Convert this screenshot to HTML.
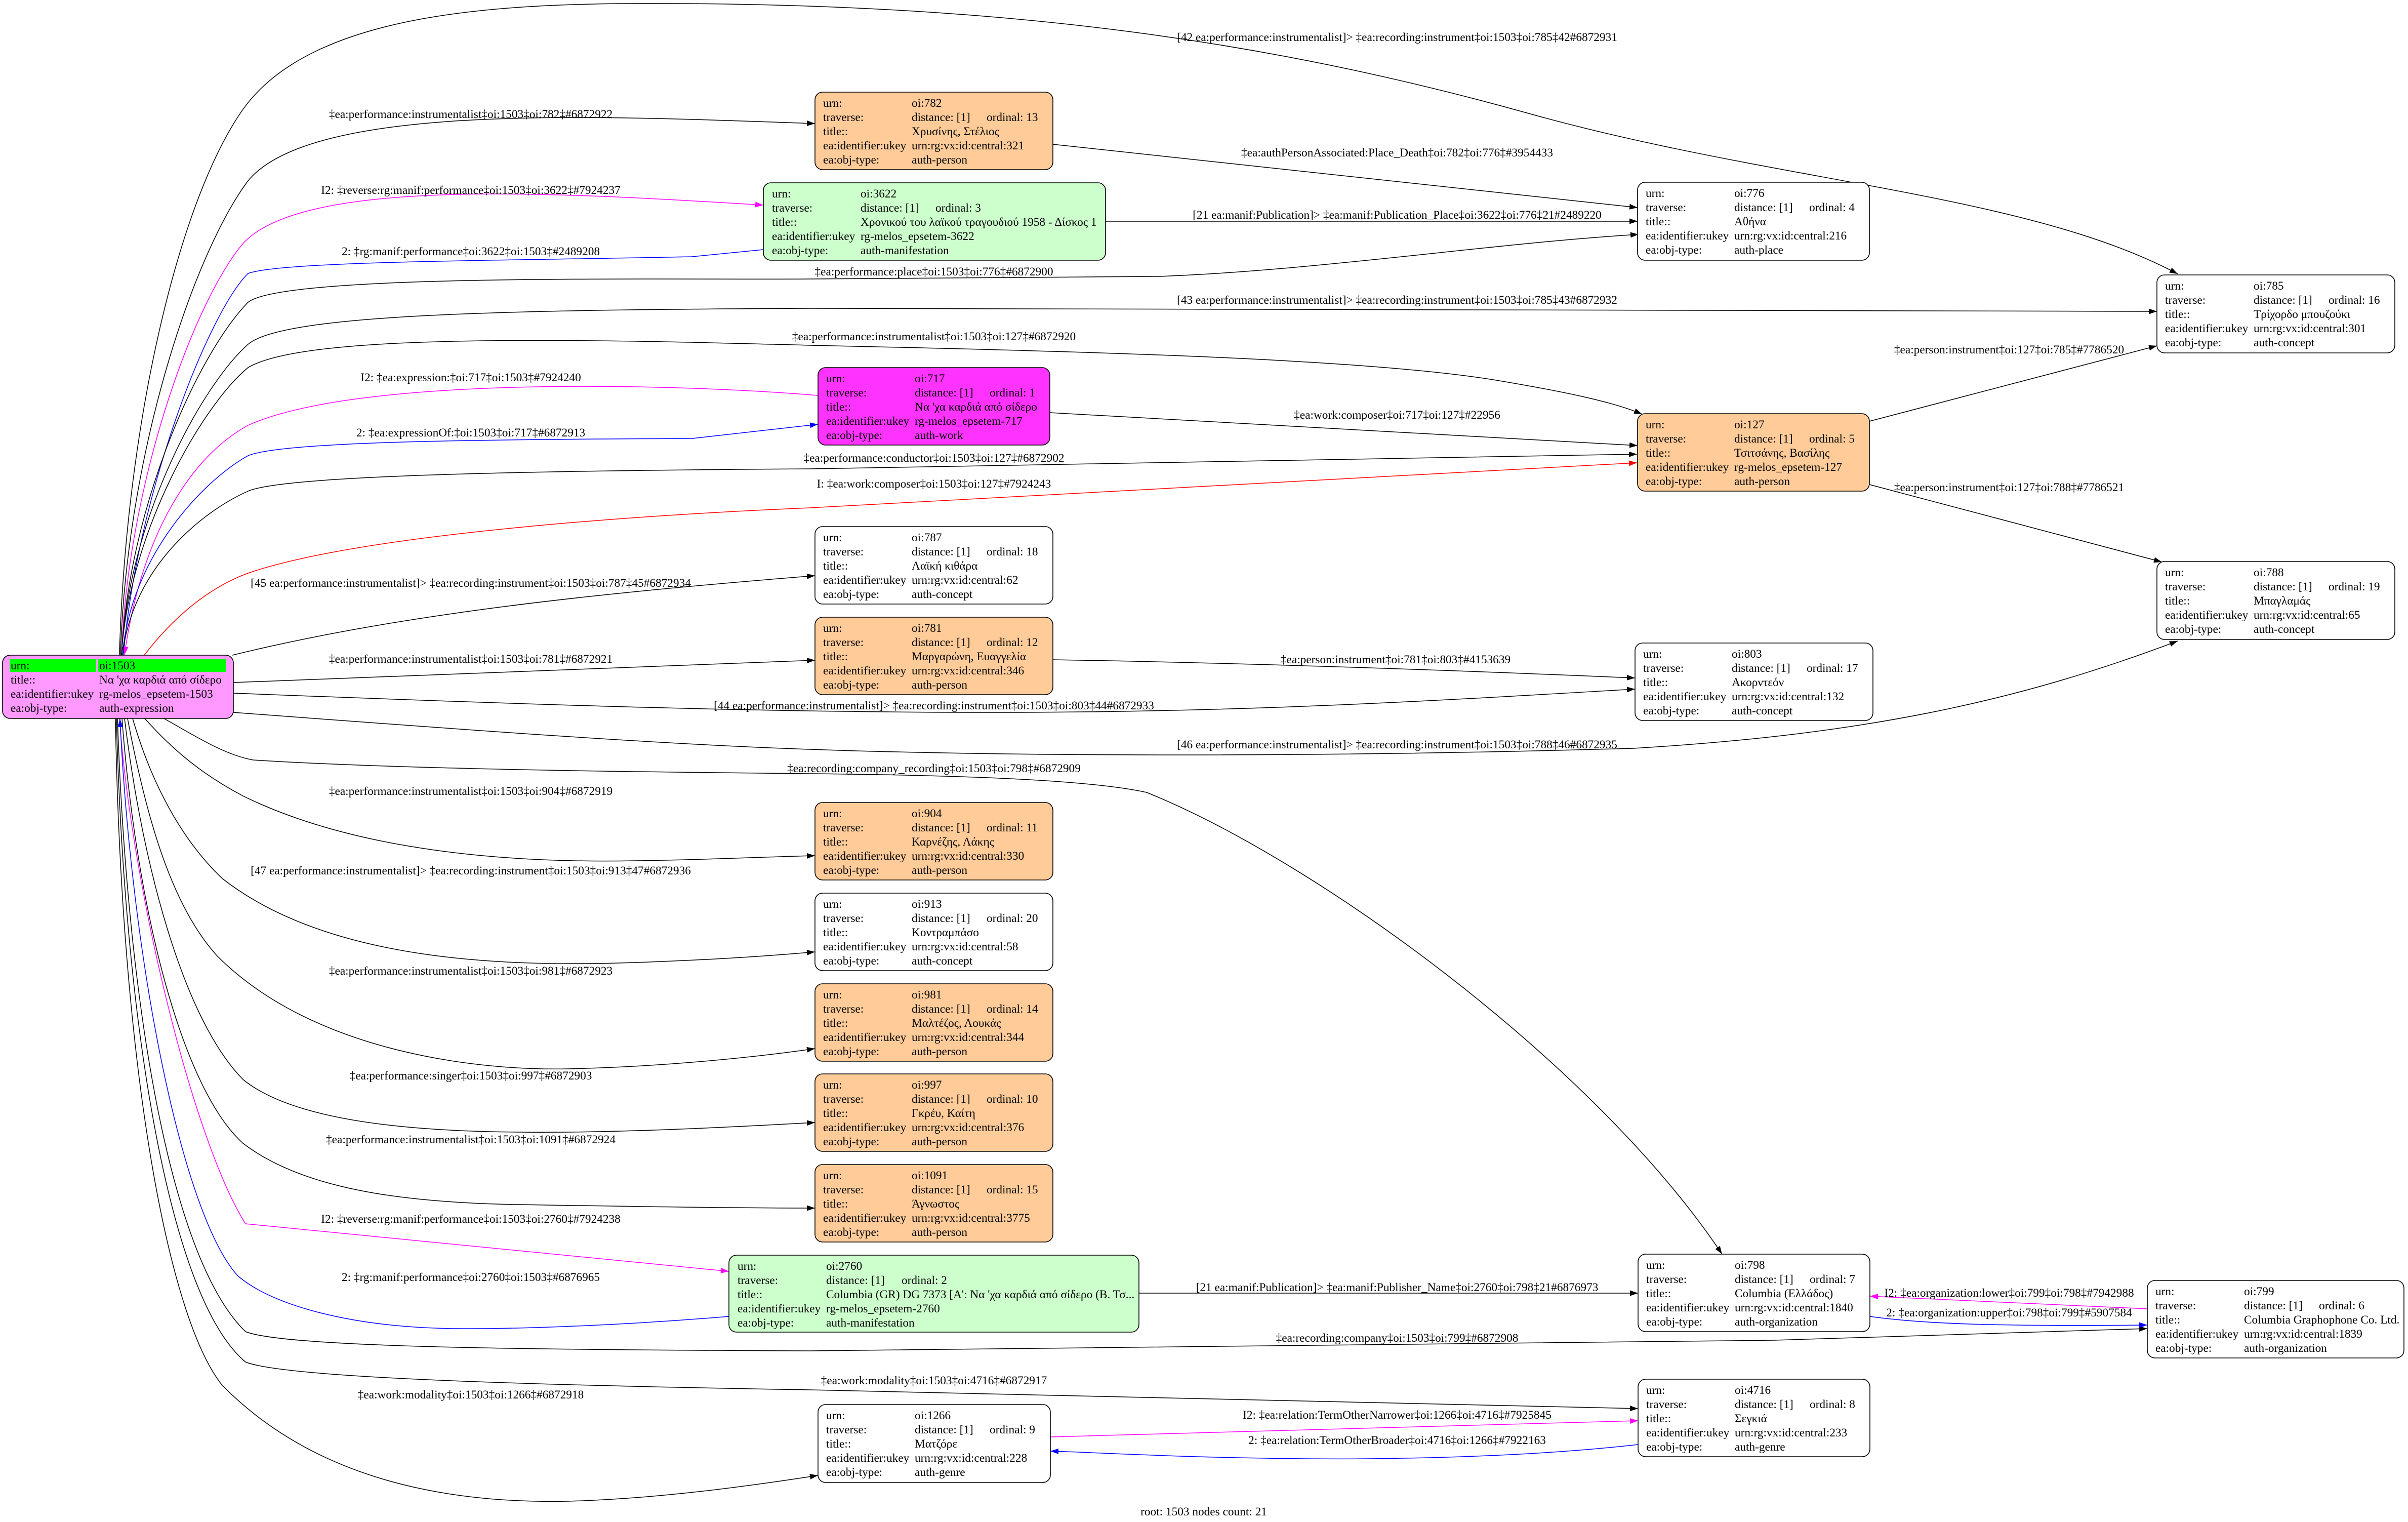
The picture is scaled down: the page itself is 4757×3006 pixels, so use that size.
<!DOCTYPE html>
<html>
<head>
<meta charset="utf-8">
<style>
html,body{margin:0;padding:0;background:#fff;}
svg{display:block;}
text{font-family:"Liberation Serif","DejaVu Serif",serif;font-size:23.3px;fill:#000;}
.lb{text-anchor:middle;}
.e{fill:none;stroke:#000;stroke-width:1.5;}
.eb{fill:none;stroke:#0000ff;stroke-width:1.5;}
.em{fill:none;stroke:#ff00ff;stroke-width:1.5;}
.er{fill:none;stroke:#ff0000;stroke-width:1.5;}
.n{stroke:#000;stroke-width:1.6;}
</style>
</head>
<body>
<svg width="4757" height="3006" viewBox="0 0 4757 3006" xmlns="http://www.w3.org/2000/svg">
<defs>
<marker id="mk" viewBox="0 0 16 11" refX="16" refY="5.5" markerWidth="16" markerHeight="11" markerUnits="userSpaceOnUse" orient="auto"><path d="M0,0 L16,5.5 L0,11 z" fill="#000"/></marker>
<marker id="mb" viewBox="0 0 16 11" refX="16" refY="5.5" markerWidth="16" markerHeight="11" markerUnits="userSpaceOnUse" orient="auto"><path d="M0,0 L16,5.5 L0,11 z" fill="#0000ff"/></marker>
<marker id="mm" viewBox="0 0 16 11" refX="16" refY="5.5" markerWidth="16" markerHeight="11" markerUnits="userSpaceOnUse" orient="auto"><path d="M0,0 L16,5.5 L0,11 z" fill="#ff00ff"/></marker>
<marker id="mr" viewBox="0 0 16 11" refX="16" refY="5.5" markerWidth="16" markerHeight="11" markerUnits="userSpaceOnUse" orient="auto"><path d="M0,0 L16,5.5 L0,11 z" fill="#ff0000"/></marker>
</defs>
<rect x="0" y="0" width="4757" height="3006" fill="#fff"/>

<!-- ============ EDGES ============ -->
<path class="e" marker-end="url(#mk)" d="M 236 1293 C 248 850, 350 400, 480 216 C 620 20, 1000 5, 1330 7 C 2000 10, 2500 80, 3009 221 C 3500 360, 4000 380, 4302 541"/>
<path class="e" marker-end="url(#mk)" d="M 238 1293 C 250 900, 380 505, 490 357 C 620 200, 1200 230, 1610 244"/>
<path class="em" marker-end="url(#mm)" d="M 240 1293 C 252 960, 380 600, 480 481 C 600 350, 1100 380, 1508 405"/>
<path class="eb" marker-end="url(#mb)" d="M 1508 493 L 1367 507 C 1000 515, 560 515, 490 540 C 410 620, 270 980, 244 1293"/>
<path class="e" marker-end="url(#mk)" d="M 240 1293 C 255 1000, 390 700, 490 597 C 560 540, 1300 553, 1600 551 L 2285 546 C 2600 535, 2950 480, 3237 463"/>
<path class="e" marker-end="url(#mk)" d="M 240 1293 C 255 1020, 400 760, 490 680 C 560 620, 1000 612, 1600 609 L 4261 615"/>
<path class="e" marker-end="url(#mk)" d="M 240 1293 C 255 1050, 400 800, 490 726 C 600 660, 1100 668, 1600 682 C 2200 695, 2700 710, 2950 750 C 3100 775, 3190 795, 3244 818"/>
<path class="em" marker-end="url(#mm)" d="M 1616 781 C 1300 755, 700 745, 490 840 C 380 900, 280 1050, 246 1293"/>
<path class="eb" marker-end="url(#mb)" d="M 242 1293 C 258 1100, 400 950, 490 900 C 560 870, 1000 868, 1367 866 L 1616 838"/>
<path class="e" marker-end="url(#mk)" d="M 242 1293 C 262 1120, 400 1010, 490 970 C 560 940, 1000 930, 1600 926 L 3234 897"/>
<path class="er" marker-end="url(#mr)" d="M 285 1294 C 330 1235, 400 1165, 490 1132 C 700 1060, 1200 1020, 1600 1003 L 3234 914"/>
<path class="e" marker-end="url(#mk)" d="M 459 1294 C 800 1210, 1200 1170, 1610 1137"/>

<path class="e" marker-end="url(#mk)" d="M 461 1348 L 1610 1304"/>
<path class="e" marker-end="url(#mk)" d="M 461 1369 C 1000 1390, 1500 1408, 2000 1407 C 2500 1406, 2900 1380, 3230 1361"/>
<path class="e" marker-end="url(#mk)" d="M 461 1407 C 900 1440, 1300 1470, 1600 1480 C 2000 1494, 2600 1496, 3227 1478 C 3700 1450, 4000 1380, 4302 1266"/>
<path class="e" marker-end="url(#mk)" d="M 322 1418 C 380 1450, 440 1490, 500 1501 C 800 1520, 1300 1525, 1600 1528 C 1900 1531, 2150 1540, 2265 1565 C 2600 1700, 3150 2100, 3402 2477"/>

<path class="e" marker-end="url(#mk)" d="M 286 1419 C 340 1480, 400 1530, 480 1572 C 700 1680, 1000 1705, 1255 1700 C 1400 1698, 1520 1692, 1610 1690"/>
<path class="e" marker-end="url(#mk)" d="M 262 1419 C 300 1550, 360 1660, 439 1735 C 650 1900, 1000 1910, 1255 1901 C 1400 1896, 1520 1888, 1610 1880"/>
<path class="e" marker-end="url(#mk)" d="M 252 1419 C 290 1620, 340 1790, 429 1888 C 620 2080, 950 2115, 1122 2111 C 1300 2107, 1480 2090, 1610 2071"/>
<path class="e" marker-end="url(#mk)" d="M 246 1419 C 280 1700, 360 2010, 480 2132 C 600 2230, 900 2238, 1122 2236 C 1300 2234, 1480 2224, 1610 2217"/>
<path class="e" marker-end="url(#mk)" d="M 241 1419 C 270 1800, 360 2150, 480 2258 C 600 2350, 800 2375, 1020 2379 C 1250 2383, 1450 2386, 1610 2386"/>
<path class="em" marker-end="url(#mm)" d="M 236 1419 C 260 1750, 380 2250, 485 2417 L 1440 2511"/>
<path class="eb" marker-end="url(#mb)" d="M 1440 2600 C 1200 2620, 1000 2625, 900 2624 C 700 2622, 540 2580, 470 2520 C 360 2400, 260 1900, 237 1420"/>
<path class="e" marker-end="url(#mk)" d="M 232 1419 C 250 1950, 330 2480, 485 2630 C 560 2660, 1000 2666, 1600 2668 L 3505 2647 L 4242 2624"/>
<path class="e" marker-end="url(#mk)" d="M 230 1419 C 245 2000, 330 2560, 485 2690 C 560 2720, 1000 2735, 1600 2745 L 3236 2782"/>
<path class="e" marker-end="url(#mk)" d="M 228 1419 C 240 2100, 330 2600, 439 2736 C 650 2950, 950 2968, 1122 2965 C 1300 2960, 1480 2935, 1616 2914"/>

<path class="e" marker-end="url(#mk)" d="M 2080 285 L 3235 410"/>
<path class="e" marker-end="url(#mk)" d="M 2184 437 L 3235 437"/>
<path class="e" marker-end="url(#mk)" d="M 2074 815 L 3235 880"/>
<path class="e" marker-end="url(#mk)" d="M 3693 832 L 4261 683"/>
<path class="e" marker-end="url(#mk)" d="M 3693 957 L 4271 1110"/>
<path class="e" marker-end="url(#mk)" d="M 2080 1303 C 2500 1310, 2900 1325, 3230 1339"/>
<path class="e" marker-end="url(#mk)" d="M 2250 2554 L 3236 2554"/>
<path class="em" marker-end="url(#mm)" d="M 4242 2585 L 3694 2560"/>
<path class="eb" marker-end="url(#mb)" d="M 3694 2600 C 3800 2615, 3950 2620, 4242 2617"/>
<path class="em" marker-end="url(#mm)" d="M 2075 2838 L 3236 2806"/>
<path class="eb" marker-end="url(#mb)" d="M 3236 2853 C 3000 2880, 2700 2884, 2500 2880 C 2300 2877, 2150 2868, 2075 2866"/>

<!-- ============ EDGE LABELS ============ -->
<text class="lb" x="2760" y="81">[42 ea:performance:instrumentalist]&gt; ‡ea:recording:instrument‡oi:1503‡oi:785‡42#6872931</text>
<text class="lb" x="930" y="233">‡ea:performance:instrumentalist‡oi:1503‡oi:782‡#6872922</text>
<text class="lb" x="2760" y="309">‡ea:authPersonAssociated:Place_Death‡oi:782‡oi:776‡#3954433</text>
<text class="lb" x="930" y="383">I2: ‡reverse:rg:manif:performance‡oi:1503‡oi:3622‡#7924237</text>
<text class="lb" x="2760" y="432">[21 ea:manif:Publication]&gt; ‡ea:manif:Publication_Place‡oi:3622‡oi:776‡21#2489220</text>
<text class="lb" x="930" y="504">2: ‡rg:manif:performance‡oi:3622‡oi:1503‡#2489208</text>
<text class="lb" x="1845" y="544">‡ea:performance:place‡oi:1503‡oi:776‡#6872900</text>
<text class="lb" x="2760" y="600">[43 ea:performance:instrumentalist]&gt; ‡ea:recording:instrument‡oi:1503‡oi:785‡43#6872932</text>
<text class="lb" x="1845" y="672">‡ea:performance:instrumentalist‡oi:1503‡oi:127‡#6872920</text>
<text class="lb" x="3969" y="698">‡ea:person:instrument‡oi:127‡oi:785‡#7786520</text>
<text class="lb" x="930" y="753">I2: ‡ea:expression:‡oi:717‡oi:1503‡#7924240</text>
<text class="lb" x="2760" y="827">‡ea:work:composer‡oi:717‡oi:127‡#22956</text>
<text class="lb" x="930" y="862">2: ‡ea:expressionOf:‡oi:1503‡oi:717‡#6872913</text>
<text class="lb" x="1845" y="912">‡ea:performance:conductor‡oi:1503‡oi:127‡#6872902</text>
<text class="lb" x="1845" y="963">I: ‡ea:work:composer‡oi:1503‡oi:127‡#7924243</text>
<text class="lb" x="3969" y="970">‡ea:person:instrument‡oi:127‡oi:788‡#7786521</text>
<text class="lb" x="930" y="1159">[45 ea:performance:instrumentalist]&gt; ‡ea:recording:instrument‡oi:1503‡oi:787‡45#6872934</text>
<text class="lb" x="930" y="1309">‡ea:performance:instrumentalist‡oi:1503‡oi:781‡#6872921</text>
<text class="lb" x="2757" y="1310">‡ea:person:instrument‡oi:781‡oi:803‡#4153639</text>
<text class="lb" x="1845" y="1401">[44 ea:performance:instrumentalist]&gt; ‡ea:recording:instrument‡oi:1503‡oi:803‡44#6872933</text>
<text class="lb" x="2760" y="1478">[46 ea:performance:instrumentalist]&gt; ‡ea:recording:instrument‡oi:1503‡oi:788‡46#6872935</text>
<text class="lb" x="1845" y="1525">‡ea:recording:company_recording‡oi:1503‡oi:798‡#6872909</text>
<text class="lb" x="930" y="1570">‡ea:performance:instrumentalist‡oi:1503‡oi:904‡#6872919</text>
<text class="lb" x="930" y="1727">[47 ea:performance:instrumentalist]&gt; ‡ea:recording:instrument‡oi:1503‡oi:913‡47#6872936</text>
<text class="lb" x="930" y="1925">‡ea:performance:instrumentalist‡oi:1503‡oi:981‡#6872923</text>
<text class="lb" x="930" y="2132">‡ea:performance:singer‡oi:1503‡oi:997‡#6872903</text>
<text class="lb" x="930" y="2258">‡ea:performance:instrumentalist‡oi:1503‡oi:1091‡#6872924</text>
<text class="lb" x="930" y="2415">I2: ‡reverse:rg:manif:performance‡oi:1503‡oi:2760‡#7924238</text>
<text class="lb" x="930" y="2530">2: ‡rg:manif:performance‡oi:2760‡oi:1503‡#6876965</text>
<text class="lb" x="2760" y="2550">[21 ea:manif:Publication]&gt; ‡ea:manif:Publisher_Name‡oi:2760‡oi:798‡21#6876973</text>
<text class="lb" x="3969" y="2561">I2: ‡ea:organization:lower‡oi:799‡oi:798‡#7942988</text>
<text class="lb" x="3969" y="2600">2: ‡ea:organization:upper‡oi:798‡oi:799‡#5907584</text>
<text class="lb" x="2760" y="2650">‡ea:recording:company‡oi:1503‡oi:799‡#6872908</text>
<text class="lb" x="1845" y="2734">‡ea:work:modality‡oi:1503‡oi:4716‡#6872917</text>
<text class="lb" x="930" y="2762">‡ea:work:modality‡oi:1503‡oi:1266‡#6872918</text>
<text class="lb" x="2760" y="2802">I2: ‡ea:relation:TermOtherNarrower‡oi:1266‡oi:4716‡#7925845</text>
<text class="lb" x="2760" y="2852">2: ‡ea:relation:TermOtherBroader‡oi:4716‡oi:1266‡#7922163</text>
<text class="lb" x="2378" y="2993">root: 1503 nodes count: 21</text>

<!-- ============ NODES ============ -->
<g transform="translate(5,1294)">
<rect class="n" x="0" y="0" width="456" height="125" rx="15" fill="#ff99ff"/>
<rect x="14" y="8" width="171" height="25" fill="#00ff00"/>
<rect x="188" y="8" width="254" height="25" fill="#00ff00"/>
<text x="16" y="28">urn:</text><text x="191" y="28">oi:1503</text>
<text x="16" y="56">title::</text><text x="191" y="56">Να 'χα καρδιά από σίδερο</text>
<text x="16" y="84">ea:identifier:ukey</text><text x="191" y="84">rg-melos_epsetem-1503</text>
<text x="16" y="112">ea:obj-type:</text><text x="191" y="112">auth-expression</text>
</g>

<g transform="translate(1610,182)">
<rect class="n" x="0" y="0" width="470" height="153" rx="15" fill="#ffcc99"/>
<text x="16" y="29">urn:</text><text x="191" y="29">oi:782</text>
<text x="16" y="57">traverse:</text><text x="191" y="57">distance: [1]</text><text x="339" y="57">ordinal: 13</text>
<text x="16" y="85">title::</text><text x="191" y="85">Χρυσίνης, Στέλιος</text>
<text x="16" y="113">ea:identifier:ukey</text><text x="191" y="113">urn:rg:vx:id:central:321</text>
<text x="16" y="141">ea:obj-type:</text><text x="191" y="141">auth-person</text>
</g>

<g transform="translate(1508,361)">
<rect class="n" x="0" y="0" width="676" height="153" rx="15" fill="#ccffcc"/>
<text x="17" y="29">urn:</text><text x="192" y="29">oi:3622</text>
<text x="17" y="57">traverse:</text><text x="192" y="57">distance: [1]</text><text x="340" y="57">ordinal: 3</text>
<text x="17" y="85">title::</text><text x="192" y="85">Χρονικού του λαϊκού τραγουδιού 1958 - Δίσκος 1</text>
<text x="17" y="113">ea:identifier:ukey</text><text x="192" y="113">rg-melos_epsetem-3622</text>
<text x="17" y="141">ea:obj-type:</text><text x="192" y="141">auth-manifestation</text>
</g>

<g transform="translate(3235,360)">
<rect class="n" x="0" y="0" width="458" height="154" rx="15" fill="#ffffff"/>
<text x="16" y="29">urn:</text><text x="191" y="29">oi:776</text>
<text x="16" y="57">traverse:</text><text x="191" y="57">distance: [1]</text><text x="339" y="57">ordinal: 4</text>
<text x="16" y="85">title::</text><text x="191" y="85">Αθήνα</text>
<text x="16" y="113">ea:identifier:ukey</text><text x="191" y="113">urn:rg:vx:id:central:216</text>
<text x="16" y="141">ea:obj-type:</text><text x="191" y="141">auth-place</text>
</g>

<g transform="translate(4261,543)">
<rect class="n" x="0" y="0" width="470" height="154" rx="15" fill="#ffffff"/>
<text x="16" y="29">urn:</text><text x="191" y="29">oi:785</text>
<text x="16" y="57">traverse:</text><text x="191" y="57">distance: [1]</text><text x="339" y="57">ordinal: 16</text>
<text x="16" y="85">title::</text><text x="191" y="85">Τρίχορδο μπουζούκι</text>
<text x="16" y="113">ea:identifier:ukey</text><text x="191" y="113">urn:rg:vx:id:central:301</text>
<text x="16" y="141">ea:obj-type:</text><text x="191" y="141">auth-concept</text>
</g>

<g transform="translate(1616,726)">
<rect class="n" x="0" y="0" width="458" height="153" rx="15" fill="#ff33ff"/>
<text x="16" y="29">urn:</text><text x="191" y="29">oi:717</text>
<text x="16" y="57">traverse:</text><text x="191" y="57">distance: [1]</text><text x="339" y="57">ordinal: 1</text>
<text x="16" y="85">title::</text><text x="191" y="85">Να 'χα καρδιά από σίδερο</text>
<text x="16" y="113">ea:identifier:ukey</text><text x="191" y="113">rg-melos_epsetem-717</text>
<text x="16" y="141">ea:obj-type:</text><text x="191" y="141">auth-work</text>
</g>

<g transform="translate(3235,817)">
<rect class="n" x="0" y="0" width="458" height="153" rx="15" fill="#ffcc99"/>
<text x="16" y="29">urn:</text><text x="191" y="29">oi:127</text>
<text x="16" y="57">traverse:</text><text x="191" y="57">distance: [1]</text><text x="339" y="57">ordinal: 5</text>
<text x="16" y="85">title::</text><text x="191" y="85">Τσιτσάνης, Βασίλης</text>
<text x="16" y="113">ea:identifier:ukey</text><text x="191" y="113">rg-melos_epsetem-127</text>
<text x="16" y="141">ea:obj-type:</text><text x="191" y="141">auth-person</text>
</g>

<g transform="translate(1610,1040)">
<rect class="n" x="0" y="0" width="470" height="153" rx="15" fill="#ffffff"/>
<text x="16" y="29">urn:</text><text x="191" y="29">oi:787</text>
<text x="16" y="57">traverse:</text><text x="191" y="57">distance: [1]</text><text x="339" y="57">ordinal: 18</text>
<text x="16" y="85">title::</text><text x="191" y="85">Λαϊκή κιθάρα</text>
<text x="16" y="113">ea:identifier:ukey</text><text x="191" y="113">urn:rg:vx:id:central:62</text>
<text x="16" y="141">ea:obj-type:</text><text x="191" y="141">auth-concept</text>
</g>

<g transform="translate(4261,1109)">
<rect class="n" x="0" y="0" width="470" height="154" rx="15" fill="#ffffff"/>
<text x="16" y="29">urn:</text><text x="191" y="29">oi:788</text>
<text x="16" y="57">traverse:</text><text x="191" y="57">distance: [1]</text><text x="339" y="57">ordinal: 19</text>
<text x="16" y="85">title::</text><text x="191" y="85">Μπαγλαμάς</text>
<text x="16" y="113">ea:identifier:ukey</text><text x="191" y="113">urn:rg:vx:id:central:65</text>
<text x="16" y="141">ea:obj-type:</text><text x="191" y="141">auth-concept</text>
</g>

<g transform="translate(1610,1219)">
<rect class="n" x="0" y="0" width="470" height="153" rx="15" fill="#ffcc99"/>
<text x="16" y="29">urn:</text><text x="191" y="29">oi:781</text>
<text x="16" y="57">traverse:</text><text x="191" y="57">distance: [1]</text><text x="339" y="57">ordinal: 12</text>
<text x="16" y="85">title::</text><text x="191" y="85">Μαργαρώνη, Ευαγγελία</text>
<text x="16" y="113">ea:identifier:ukey</text><text x="191" y="113">urn:rg:vx:id:central:346</text>
<text x="16" y="141">ea:obj-type:</text><text x="191" y="141">auth-person</text>
</g>

<g transform="translate(3230,1270)">
<rect class="n" x="0" y="0" width="470" height="153" rx="15" fill="#ffffff"/>
<text x="16" y="29">urn:</text><text x="191" y="29">oi:803</text>
<text x="16" y="57">traverse:</text><text x="191" y="57">distance: [1]</text><text x="339" y="57">ordinal: 17</text>
<text x="16" y="85">title::</text><text x="191" y="85">Ακορντεόν</text>
<text x="16" y="113">ea:identifier:ukey</text><text x="191" y="113">urn:rg:vx:id:central:132</text>
<text x="16" y="141">ea:obj-type:</text><text x="191" y="141">auth-concept</text>
</g>

<g transform="translate(1610,1585)">
<rect class="n" x="0" y="0" width="470" height="153" rx="15" fill="#ffcc99"/>
<text x="16" y="29">urn:</text><text x="191" y="29">oi:904</text>
<text x="16" y="57">traverse:</text><text x="191" y="57">distance: [1]</text><text x="339" y="57">ordinal: 11</text>
<text x="16" y="85">title::</text><text x="191" y="85">Καρνέζης, Λάκης</text>
<text x="16" y="113">ea:identifier:ukey</text><text x="191" y="113">urn:rg:vx:id:central:330</text>
<text x="16" y="141">ea:obj-type:</text><text x="191" y="141">auth-person</text>
</g>

<g transform="translate(1610,1764)">
<rect class="n" x="0" y="0" width="470" height="153" rx="15" fill="#ffffff"/>
<text x="16" y="29">urn:</text><text x="191" y="29">oi:913</text>
<text x="16" y="57">traverse:</text><text x="191" y="57">distance: [1]</text><text x="339" y="57">ordinal: 20</text>
<text x="16" y="85">title::</text><text x="191" y="85">Κοντραμπάσο</text>
<text x="16" y="113">ea:identifier:ukey</text><text x="191" y="113">urn:rg:vx:id:central:58</text>
<text x="16" y="141">ea:obj-type:</text><text x="191" y="141">auth-concept</text>
</g>

<g transform="translate(1610,1943)">
<rect class="n" x="0" y="0" width="470" height="153" rx="15" fill="#ffcc99"/>
<text x="16" y="29">urn:</text><text x="191" y="29">oi:981</text>
<text x="16" y="57">traverse:</text><text x="191" y="57">distance: [1]</text><text x="339" y="57">ordinal: 14</text>
<text x="16" y="85">title::</text><text x="191" y="85">Μαλτέζος, Λουκάς</text>
<text x="16" y="113">ea:identifier:ukey</text><text x="191" y="113">urn:rg:vx:id:central:344</text>
<text x="16" y="141">ea:obj-type:</text><text x="191" y="141">auth-person</text>
</g>

<g transform="translate(1610,2121)">
<rect class="n" x="0" y="0" width="470" height="153" rx="15" fill="#ffcc99"/>
<text x="16" y="29">urn:</text><text x="191" y="29">oi:997</text>
<text x="16" y="57">traverse:</text><text x="191" y="57">distance: [1]</text><text x="339" y="57">ordinal: 10</text>
<text x="16" y="85">title::</text><text x="191" y="85">Γκρέυ, Καίτη</text>
<text x="16" y="113">ea:identifier:ukey</text><text x="191" y="113">urn:rg:vx:id:central:376</text>
<text x="16" y="141">ea:obj-type:</text><text x="191" y="141">auth-person</text>
</g>

<g transform="translate(1610,2300)">
<rect class="n" x="0" y="0" width="470" height="153" rx="15" fill="#ffcc99"/>
<text x="16" y="29">urn:</text><text x="191" y="29">oi:1091</text>
<text x="16" y="57">traverse:</text><text x="191" y="57">distance: [1]</text><text x="339" y="57">ordinal: 15</text>
<text x="16" y="85">title::</text><text x="191" y="85">Άγνωστος</text>
<text x="16" y="113">ea:identifier:ukey</text><text x="191" y="113">urn:rg:vx:id:central:3775</text>
<text x="16" y="141">ea:obj-type:</text><text x="191" y="141">auth-person</text>
</g>

<g transform="translate(1440,2479)">
<rect class="n" x="0" y="0" width="810" height="152" rx="15" fill="#ccffcc"/>
<text x="17" y="29">urn:</text><text x="192" y="29">oi:2760</text>
<text x="17" y="57">traverse:</text><text x="192" y="57">distance: [1]</text><text x="341" y="57">ordinal: 2</text>
<text x="17" y="85">title::</text><text x="192" y="85">Columbia (GR) DG 7373 [Α': Να 'χα καρδιά από σίδερο (Β. Τσ...</text>
<text x="17" y="113">ea:identifier:ukey</text><text x="192" y="113">rg-melos_epsetem-2760</text>
<text x="17" y="141">ea:obj-type:</text><text x="192" y="141">auth-manifestation</text>
</g>

<g transform="translate(3236,2477)">
<rect class="n" x="0" y="0" width="458" height="153" rx="15" fill="#ffffff"/>
<text x="16" y="29">urn:</text><text x="191" y="29">oi:798</text>
<text x="16" y="57">traverse:</text><text x="191" y="57">distance: [1]</text><text x="339" y="57">ordinal: 7</text>
<text x="16" y="85">title::</text><text x="191" y="85">Columbia (Ελλάδος)</text>
<text x="16" y="113">ea:identifier:ukey</text><text x="191" y="113">urn:rg:vx:id:central:1840</text>
<text x="16" y="141">ea:obj-type:</text><text x="191" y="141">auth-organization</text>
</g>

<g transform="translate(4242,2529)">
<rect class="n" x="0" y="0" width="507" height="153" rx="15" fill="#ffffff"/>
<text x="16" y="29">urn:</text><text x="191" y="29">oi:799</text>
<text x="16" y="57">traverse:</text><text x="191" y="57">distance: [1]</text><text x="339" y="57">ordinal: 6</text>
<text x="16" y="85">title::</text><text x="191" y="85">Columbia Graphophone Co. Ltd.</text>
<text x="16" y="113">ea:identifier:ukey</text><text x="191" y="113">urn:rg:vx:id:central:1839</text>
<text x="16" y="141">ea:obj-type:</text><text x="191" y="141">auth-organization</text>
</g>

<g transform="translate(3236,2724)">
<rect class="n" x="0" y="0" width="458" height="153" rx="15" fill="#ffffff"/>
<text x="16" y="29">urn:</text><text x="191" y="29">oi:4716</text>
<text x="16" y="57">traverse:</text><text x="191" y="57">distance: [1]</text><text x="339" y="57">ordinal: 8</text>
<text x="16" y="85">title::</text><text x="191" y="85">Σεγκιά</text>
<text x="16" y="113">ea:identifier:ukey</text><text x="191" y="113">urn:rg:vx:id:central:233</text>
<text x="16" y="141">ea:obj-type:</text><text x="191" y="141">auth-genre</text>
</g>

<g transform="translate(1616,2774)">
<rect class="n" x="0" y="0" width="459" height="154" rx="15" fill="#ffffff"/>
<text x="16" y="29">urn:</text><text x="191" y="29">oi:1266</text>
<text x="16" y="57">traverse:</text><text x="191" y="57">distance: [1]</text><text x="339" y="57">ordinal: 9</text>
<text x="16" y="85">title::</text><text x="191" y="85">Ματζόρε</text>
<text x="16" y="113">ea:identifier:ukey</text><text x="191" y="113">urn:rg:vx:id:central:228</text>
<text x="16" y="141">ea:obj-type:</text><text x="191" y="141">auth-genre</text>
</g>

</svg>
</body>
</html>
